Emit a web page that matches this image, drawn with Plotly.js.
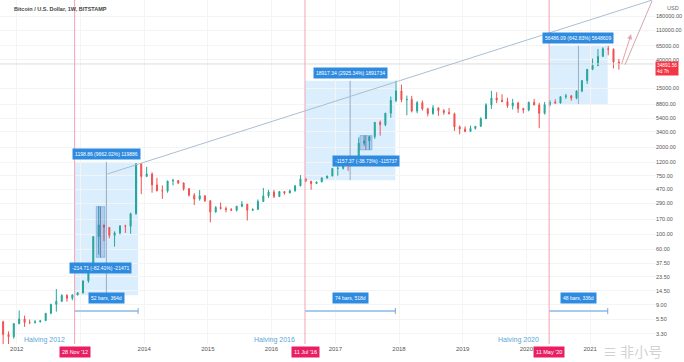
<!DOCTYPE html>
<html><head><meta charset="utf-8">
<script src="https://cdn.plot.ly/plotly-3.0.1.min.js"></script>
<style>html,body{margin:0;padding:0;background:#fff}#chart{width:684px;height:362px}</style>
</head><body><div id="chart"></div>
<script>
// Monthly OHLC (BTC/USD, Bitstamp), read/estimated
const months = [
 '2011-10-15','2011-11-15','2011-12-15',
 '2012-01-15','2012-02-15','2012-03-15','2012-04-15','2012-05-15','2012-06-15','2012-07-15','2012-08-15','2012-09-15','2012-10-15','2012-11-15','2012-12-15',
 '2013-01-15','2013-02-15','2013-03-15','2013-04-15','2013-05-15','2013-06-15','2013-07-15','2013-08-15','2013-09-15','2013-10-15','2013-11-15','2013-12-15',
 '2014-01-15','2014-02-15','2014-03-15','2014-04-15','2014-05-15','2014-06-15','2014-07-15','2014-08-15','2014-09-15','2014-10-15','2014-11-15','2014-12-15',
 '2015-01-15','2015-02-15','2015-03-15','2015-04-15','2015-05-15','2015-06-15','2015-07-15','2015-08-15','2015-09-15','2015-10-15','2015-11-15','2015-12-15',
 '2016-01-15','2016-02-15','2016-03-15','2016-04-15','2016-05-15','2016-06-15','2016-07-15','2016-08-15','2016-09-15','2016-10-15','2016-11-15','2016-12-15',
 '2017-01-15','2017-02-15','2017-03-15','2017-04-15','2017-05-15','2017-06-15','2017-07-15','2017-08-15','2017-09-15','2017-10-15','2017-11-15','2017-12-15',
 '2018-01-15','2018-02-15','2018-03-15','2018-04-15','2018-05-15','2018-06-15','2018-07-15','2018-08-15','2018-09-15','2018-10-15','2018-11-15','2018-12-15',
 '2019-01-15','2019-02-15','2019-03-15','2019-04-15','2019-05-15','2019-06-15','2019-07-15','2019-08-15','2019-09-15','2019-10-15','2019-11-15','2019-12-15',
 '2020-01-15','2020-02-15','2020-03-15','2020-04-15','2020-05-15','2020-06-15','2020-07-15','2020-08-15','2020-09-15','2020-10-15','2020-11-15','2020-12-15',
 '2021-01-15','2021-02-15','2021-03-15','2021-04-15','2021-05-15','2021-06-15'
];
const open = [
 5.0,3.25,3.0,
 4.7,5.5,4.9,4.9,5.0,5.2,6.7,9.1,10.1,12.4,11.2,12.6,
 13.5,20.4,33.4,93,139,128,97,106,135,133,204,1128,
 732,800,550,450,445,630,640,585,480,386,338,378,
 320,217,254,244,236,230,264,284,230,236,312,377,
 430,368,437,416,448,531,673,624,574,609,698,745,
 966,970,1190,1080,1348,2300,2480,2875,4700,4340,6450,9950,
 13850,10220,10330,6930,9240,7490,6390,7730,7030,6620,6310,4020,
 3740,3440,3820,4100,5320,8570,10820,10080,9590,8290,9150,7540,
 7190,9350,8530,6410,8630,9450,9140,11350,11660,10780,13800,19700,
 28990,33110,45190,58800,57700,37300
];
const high = [
 5.2,3.6,4.8,
 7.4,6.2,5.4,5.3,5.2,6.7,9.3,15.4,12.9,12.9,12.9,13.8,
 20.4,33.4,95,266,139,129,112,135,140,212,1163,1163,
 1022,845,700,540,630,680,640,600,495,415,460,383,
 320,265,300,261,248,268,316,285,247,334,495,465,
 462,446,438,468,550,768,704,626,614,715,753,975,
 1153,1200,1290,1350,2790,3000,2950,4760,5000,6470,11400,19666,
 17170,11780,11700,9760,9990,7750,8500,7760,7410,7680,6550,4240,
 4100,4200,4150,5600,9070,13880,13200,12330,10950,10540,9510,7750,
 9580,10500,9190,9470,10080,10380,11450,12470,12080,14100,19850,29300,
 41950,58350,61780,64900,59500,41300
];
const low = [
 2.2,2.0,2.8,
 4.6,4.2,4.6,4.7,4.9,5.2,6.5,7.1,10.0,10.0,10.5,12.4,
 13.2,19.1,33,50,80,88,66,100,106,103,199,400,
 730,420,440,340,420,540,565,450,370,275,320,305,
 152,212,236,214,225,221,255,162,224,235,305,352,
 350,366,393,414,436,525,604,465,570,605,680,743,
 752,930,890,1070,1348,2100,1830,2670,2980,4120,5500,9380,
 9400,6000,6600,6430,7030,5780,6070,5880,6100,6200,3500,3120,
 3350,3380,3680,4050,5320,7430,9070,9350,7730,7300,6520,6420,
 6860,8470,3850,6150,8100,8900,8950,10520,9880,10380,13200,17600,
 28150,32300,45000,47000,30000,28800
];
const close = [
 3.25,3.0,4.7,
 5.5,4.9,4.9,5.0,5.2,6.7,9.1,10.1,12.4,11.2,12.6,13.5,
 20.4,33.4,93,139,128,97,106,135,133,204,1128,732,
 800,550,450,445,630,640,585,480,386,338,378,320,
 217,254,244,236,230,264,284,230,236,312,377,430,
 368,437,416,448,531,673,624,574,609,698,745,966,
 970,1190,1080,1348,2300,2480,2875,4700,4340,6450,9950,13850,
 10220,10330,6930,9240,7490,6390,7730,7030,6620,6310,4020,3740,
 3440,3820,4100,5320,8570,10820,10080,9590,8290,9150,7540,7190,
 9350,8530,6410,8630,9450,9140,11350,11660,10780,13800,19700,28990,
 33110,45190,58800,57700,37300,34891
];
// 24000.00 is hidden under the price label in the reference
const yTickVals = [3.3,5.5,9,14.5,23.5,37.5,60,100,170,290,470,750,1200,2000,3400,5400,8800,15000,40000,65000,110000,180000];
const yTickText = ['3.30','5.50','9.00','14.50','23.50','37.50','60.00','100.00','170.00','290.00','470.00','750.00','1200.00','2000.00','3400.00','5400.00','8800.00','15000.00','40000.00','65000.00','110000.00','180000.00'];
// 2013 label is hidden under the halving date label in the reference
const xTickVals = ['2012-01-01','2013-01-01','2014-01-01','2015-01-01','2016-01-01','2017-01-01','2018-01-01','2019-01-01','2020-01-01','2021-01-01'];
const xTickText = ['2012','','2014','2015','2016','2017','2018','2019','2020','2021'];

const halvings = ['2012-11-28','2016-07-11','2020-05-11'];
const halvingDateLabels = ["28 Nov '12","11 Jul '16","11 May '20"];
const halvingNames = ['Halving 2012','Halving 2016','Halving 2020'];

const boxStart = ['2012-11-28','2016-07-11','2020-05-11'];
const boxEnd = ['2013-11-27','2017-12-11','2021-04-12'];
const boxLow = [12.41,646.7,8787];
const boxHigh = [1211.27,19564,65273];
const boxTopText = ['1198.86 (9662.02%) 119886','18917.34 (2925.34%) 1891734','56486.09 (642.83%) 5648609'];
const boxBarsText = ['52 bars, 364d','74 bars, 518d','48 bars, 336d'];

const dipStart = ['2013-04-01','2017-05-22'];
const dipEnd = ['2013-05-20','2017-07-30'];
const dipHigh = [260.5,2988];
const dipLow = [45.8,1831];
const dipText = ['-214.71 (-82.41%) -21471','-1157.37 (-38.73%) -115737'];

const trendStart = ['2013-06-03',798];
const trendEnd = ['2021-12-23',313000];
const lastPrice = 34891;

const BLUE = '#2f8be0';
const mid = (a,b)=>new Date((Date.parse(a)+Date.parse(b))/2).toISOString().slice(0,10);
const L = Math.log10;
const PH = 344; // plot height px
const py = px => 1 - px/PH;

const shapes = [];
const ann = [];

shapes.push({type:'line',xref:'paper',x0:0,x1:1,yref:'y',y0:lastPrice,y1:lastPrice,line:{color:'#dcdcdc',width:1}});

for(let i=0;i<3;i++){
  shapes.push({type:'rect',xref:'x',yref:'y',x0:boxStart[i],x1:boxEnd[i],y0:boxLow[i],y1:boxHigh[i],fillcolor:'rgba(33,150,243,0.16)',line:{width:0},layer:'below'});
  const m = mid(boxStart[i],boxEnd[i]);
  shapes.push({type:'line',xref:'x',yref:'y',x0:m,x1:m,y0:boxLow[i],y1:boxHigh[i],line:{color:'rgba(90,120,150,0.55)',width:1}});
  shapes.push({type:'line',xref:'x',yref:'paper',x0:boxStart[i],x1:boxEnd[i],y0:py(311),y1:py(311),line:{color:'#a8cbeb',width:2}});
  shapes.push({type:'line',xref:'x',yref:'paper',x0:boxEnd[i],x1:boxEnd[i],y0:py(314),y1:py(308),line:{color:'#7aa9d6',width:1}});
  ann.push({xref:'x',yref:'y',x:m,y:L(boxHigh[i]),yanchor:'bottom',yshift:2,text:boxTopText[i],showarrow:false,bgcolor:BLUE,borderpad:2,font:{size:5,color:'#fff'}});
  ann.push({xref:'x',yref:'paper',x:m,y:py(298),yanchor:'middle',text:boxBarsText[i],showarrow:false,bgcolor:BLUE,borderpad:2,font:{size:5,color:'#fff'}});
}
for(let i=0;i<2;i++){
  shapes.push({type:'rect',xref:'x',yref:'y',x0:dipStart[i],x1:dipEnd[i],y0:dipLow[i],y1:dipHigh[i],fillcolor:'rgba(60,120,200,0.28)',line:{color:'rgba(60,120,200,0.35)',width:1}});
  const m = mid(dipStart[i],dipEnd[i]);
  shapes.push({type:'line',xref:'x',yref:'y',x0:m,x1:m,y0:dipLow[i],y1:dipHigh[i],line:{color:'rgba(60,80,110,0.6)',width:1}});
  ann.push({xref:'x',yref:'y',x:m,y:L(dipLow[i]),yanchor:'top',yshift:-5,text:dipText[i],showarrow:false,bgcolor:BLUE,borderpad:2,font:{size:5,color:'#fff'}});
}
for(let i=0;i<3;i++){
  shapes.push({type:'line',xref:'x',yref:'paper',x0:halvings[i],x1:halvings[i],y0:0,y1:1,line:{color:'#f4a3b4',width:1}});
  ann.push({xref:'x',yref:'paper',x:halvings[i],y:0,yanchor:'top',yshift:-2,text:halvingDateLabels[i],showarrow:false,bgcolor:'#e91e63',borderpad:2,font:{size:5.5,color:'#fff'}});
  ann.push({xref:'x',yref:'paper',x:halvings[i],y:py(340),xanchor:'right',xshift:-8,yanchor:'middle',text:halvingNames[i],showarrow:false,font:{size:7,color:'#5aa6d8'}});
}
shapes.push({type:'line',xref:'x',yref:'y',x0:trendStart[0],y0:trendStart[1],x1:trendEnd[0],y1:trendEnd[1],line:{color:'#a9bfd4',width:1}});
shapes.push({type:'line',xref:'x',yref:'y',x0:'2021-07-20',y0:34000,x1:'2021-12-22',y1:302000,line:{color:'#d4a6b0',width:1}});
ann.push({xref:'x',yref:'y',axref:'x',ayref:'y',x:'2021-08-24',y:L(96900),ax:'2021-06-28',ay:L(33000),showarrow:true,arrowhead:2,arrowsize:1,arrowwidth:1,arrowcolor:'#e7a0aa',text:''});

ann.push({xref:'paper',yref:'paper',x:0.018,y:1,xanchor:'left',yanchor:'top',yshift:-4,text:'<b>Bitcoin / U.S. Dollar, 1W, BITSTAMP</b>',showarrow:false,font:{size:5.5,color:'#444'}});
ann.push({xref:'paper',yref:'paper',x:1,y:1,xanchor:'left',xshift:10,yanchor:'top',yshift:-3,text:'USD',showarrow:false,font:{size:5.5,color:'#666'}});
ann.push({xref:'paper',yref:'y',x:1,y:L(lastPrice),xanchor:'left',yanchor:'top',yshift:3,text:'34891.56<br>4d 7h',align:'left',showarrow:false,bgcolor:'#f23645',borderpad:1,font:{size:4.8,color:'#fff'}});
ann.push({xref:'paper',yref:'paper',x:0.918,y:py(351),xanchor:'left',yanchor:'middle',text:'≡ 非小号',showarrow:false,font:{size:14,color:'rgba(170,170,170,0.55)',family:'Noto Sans CJK SC'}});

const trace = {
  type:'candlestick', x:months, open:open, high:high, low:low, close:close,
  increasing:{line:{color:'#26a69a',width:1},fillcolor:'#26a69a'},
  decreasing:{line:{color:'#ef5350',width:1},fillcolor:'#ef5350'},
  whiskerwidth:0, hoverinfo:'skip'
};

const layout = {
  width:684,height:362,
  margin:{l:0,r:29,t:0,b:18},
  paper_bgcolor:'#fff',plot_bgcolor:'#fff',
  showlegend:false, hovermode:false, boxgap:0.7,
  font:{family:'Liberation Sans, Arial, sans-serif',color:'#555'},
  xaxis:{type:'date',range:['2011-09-27','2022-01-08'],tickvals:xTickVals,ticktext:xTickText,
    tickfont:{size:6,color:'#555'},showgrid:true,gridcolor:'#f4f4f4',zeroline:false,showline:false,
    rangeslider:{visible:false},ticks:''},
  yaxis:{type:'log',side:'right',range:[0.3686,5.496],tickvals:yTickVals,ticktext:yTickText,
    tickfont:{size:5.5,color:'#555'},showgrid:true,gridcolor:'#f4f4f4',zeroline:false,showline:false,ticks:''},
  shapes:shapes, annotations:ann
};
Plotly.newPlot('chart',[trace],layout,{displayModeBar:false,staticPlot:true});
</script></body></html>
